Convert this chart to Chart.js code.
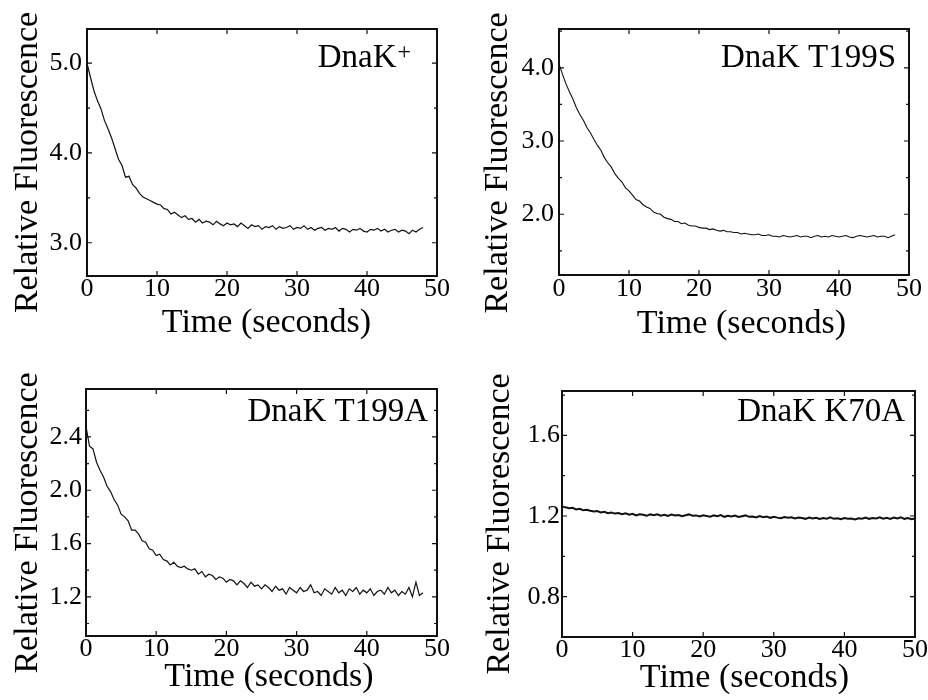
<!DOCTYPE html>
<html>
<head>
<meta charset="utf-8">
<script src="https://cdn.jsdelivr.net/npm/chart.js@4.4.1/dist/chart.umd.min.js"></script>
<style>
  body { margin: 0; background: #fff; }
  #figure { position: relative; width: 928px; height: 700px; }
  .panel { position: absolute; width: 464px; height: 350px; }
</style>
</head>
<body>
<div id="figure">
  <div class="panel" style="left:0;top:0"><canvas id="panelWT" width="464" height="350"></canvas></div>
  <div class="panel" style="left:464px;top:0"><canvas id="panelT199S" width="464" height="350"></canvas></div>
  <div class="panel" style="left:0;top:350px"><canvas id="panelT199A" width="464" height="350"></canvas></div>
  <div class="panel" style="left:464px;top:350px"><canvas id="panelK70A" width="464" height="350"></canvas></div>
</div>
<script>
const SERIF = '"Liberation Serif", "Times New Roman", serif';
const X_TITLE = 'Time (seconds)';
const Y_TITLE = 'Relative Fluorescence';

// sample times (seconds)
const TIME = [
  0, 0.5, 1, 1.5, 2, 2.5, 3, 3.5, 4, 4.5, 5, 5.5, 6, 6.5, 7, 7.5, 8, 8.5, 9, 9.5,
  10, 10.5, 11, 11.5, 12, 12.5, 13, 13.5, 14, 14.5, 15, 15.5, 16, 16.5, 17, 17.5, 18, 18.5, 19, 19.5,
  20, 20.5, 21, 21.5, 22, 22.5, 23, 23.5, 24, 24.5, 25, 25.5, 26, 26.5, 27, 27.5, 28, 28.5, 29, 29.5,
  30, 30.5, 31, 31.5, 32, 32.5, 33, 33.5, 34, 34.5, 35, 35.5, 36, 36.5, 37, 37.5, 38, 38.5, 39, 39.5,
  40, 40.5, 41, 41.5, 42, 42.5, 43, 43.5, 44, 44.5, 45, 45.5, 46, 46.5, 47, 47.5, 48, 48.5, 49, 49.5,
  50
];

// DnaK+ trace (0 - 48 s)
const WT_VALUES = [
  5.00, 4.84, 4.69, 4.58, 4.49, 4.36, 4.27, 4.17, 4.05, 3.93,
  3.86, 3.73, 3.74, 3.65, 3.61, 3.55, 3.51, 3.49, 3.47, 3.45,
  3.43, 3.42, 3.38, 3.37, 3.32, 3.34, 3.31, 3.28, 3.30, 3.26,
  3.27, 3.23, 3.26, 3.22, 3.24, 3.23, 3.20, 3.24, 3.21, 3.19,
  3.22, 3.20, 3.21, 3.18, 3.22, 3.19, 3.16, 3.20, 3.18, 3.19,
  3.15, 3.18, 3.17, 3.19, 3.15, 3.18, 3.16, 3.17, 3.19, 3.15,
  3.17, 3.16, 3.19, 3.15, 3.17, 3.14, 3.16, 3.17, 3.14, 3.16,
  3.15, 3.17, 3.13, 3.16, 3.15, 3.12, 3.15, 3.14, 3.16, 3.13,
  3.12, 3.15, 3.14, 3.16, 3.13, 3.15, 3.12, 3.14, 3.15, 3.12,
  3.14, 3.13, 3.10, 3.14, 3.12, 3.15, 3.17
];

// DnaK T199S trace (0 - 48 s)
const T199S_VALUES = [
  4.05, 3.91, 3.78, 3.67, 3.57, 3.45, 3.36, 3.28, 3.18, 3.11,
  3.02, 2.94, 2.87, 2.77, 2.70, 2.64, 2.55, 2.49, 2.44, 2.36,
  2.32, 2.26, 2.20, 2.18, 2.13, 2.10, 2.08, 2.03, 2.01, 2.00,
  1.96, 1.94, 1.93, 1.90, 1.90, 1.87, 1.88, 1.85, 1.84, 1.84,
  1.82, 1.81, 1.81, 1.79, 1.80, 1.78, 1.77, 1.78, 1.76, 1.76,
  1.75, 1.75, 1.73, 1.74, 1.73, 1.72, 1.72, 1.73, 1.71, 1.71,
  1.72, 1.70, 1.70, 1.69, 1.71, 1.70, 1.69, 1.70, 1.71, 1.69,
  1.70, 1.70, 1.68, 1.70, 1.71, 1.69, 1.70, 1.69, 1.71, 1.70,
  1.69, 1.70, 1.71, 1.69, 1.68, 1.70, 1.71, 1.70, 1.69, 1.70,
  1.71, 1.69, 1.70, 1.70, 1.68, 1.70, 1.72
];

// DnaK T199A trace (0 - 48 s)
const T199A_VALUES = [
  2.48, 2.33, 2.31, 2.21, 2.15, 2.10, 2.03, 1.99, 1.93, 1.89,
  1.82, 1.80, 1.77, 1.70, 1.70, 1.67, 1.62, 1.61, 1.56, 1.55,
  1.51, 1.52, 1.48, 1.47, 1.44, 1.46, 1.43, 1.42, 1.43, 1.41,
  1.40, 1.41, 1.37, 1.39, 1.35, 1.37, 1.36, 1.33, 1.35, 1.34,
  1.31, 1.33, 1.32, 1.29, 1.32, 1.30, 1.27, 1.31, 1.28, 1.29,
  1.26, 1.29, 1.27, 1.24, 1.28, 1.25, 1.26, 1.22, 1.27, 1.25,
  1.23, 1.27, 1.24, 1.25, 1.29, 1.23, 1.24, 1.21, 1.26, 1.24,
  1.22, 1.27, 1.23, 1.25, 1.21, 1.26, 1.24, 1.27, 1.22, 1.25,
  1.23, 1.26, 1.21, 1.24, 1.25, 1.22, 1.27, 1.23, 1.25, 1.21,
  1.24, 1.22, 1.27, 1.20, 1.31, 1.21, 1.23
];

// DnaK K70A trace (0 - 50 s)
const K70A_VALUES = [
  1.248, 1.243, 1.239, 1.241, 1.233, 1.236, 1.229, 1.231, 1.226, 1.222,
  1.225, 1.218, 1.221, 1.214, 1.217, 1.212, 1.215, 1.209, 1.213, 1.207,
  1.211, 1.203, 1.209, 1.206, 1.201, 1.208, 1.204, 1.209, 1.202, 1.206,
  1.200, 1.207, 1.203, 1.205, 1.199, 1.204, 1.208, 1.201, 1.203, 1.198,
  1.204, 1.200, 1.197, 1.203, 1.199, 1.205, 1.196, 1.201, 1.198, 1.202,
  1.195, 1.199, 1.203, 1.196, 1.198, 1.193, 1.200, 1.194, 1.197, 1.191,
  1.196, 1.192, 1.189, 1.195, 1.191, 1.194, 1.188, 1.193, 1.190, 1.186,
  1.192, 1.188, 1.191, 1.185, 1.190, 1.187, 1.193, 1.186, 1.189, 1.184,
  1.190, 1.186, 1.188, 1.183, 1.189, 1.187, 1.192, 1.186, 1.190, 1.188,
  1.194, 1.187, 1.191, 1.185, 1.192, 1.188, 1.194, 1.186, 1.190, 1.184,
  1.188
];

const X_TICKS = [0, 10, 20, 30, 40, 50];
const WT_Y_TICKS = [3.0, 4.0, 5.0];
const T199S_Y_TICKS = [2.0, 3.0, 4.0];
const T199A_Y_TICKS = [1.2, 1.6, 2.0, 2.4];
const K70A_Y_TICKS = [0.8, 1.2, 1.6];

function toPoints(values){
  return values.map((v, i) => ({ x: TIME[i], y: v }));
}

// box around the plot with small inward ticks
const framePlugin = {
  id: 'frame',
  afterDatasetsDraw(chart, args, opts) {
    const { ctx, chartArea: a, scales } = chart;
    ctx.save();
    ctx.strokeStyle = '#111';
    ctx.lineWidth = 2;
    ctx.strokeRect(a.left, a.top, a.right - a.left, a.bottom - a.top);

    ctx.lineWidth = 1.2;
    ctx.beginPath();
    X_TICKS.forEach(v => {
      const px = scales.x.getPixelForValue(v);
      ctx.moveTo(px, a.bottom); ctx.lineTo(px, a.bottom - 5);
      ctx.moveTo(px, a.top);    ctx.lineTo(px, a.top + 5);
    });
    const yTicks = opts.yTicks;
    const step = yTicks[1] - yTicks[0];
    const minor = [yTicks[0] - step / 2].concat(yTicks.map(v => v + step / 2));
    yTicks.forEach(v => {
      const py = scales.y.getPixelForValue(v);
      ctx.moveTo(a.left, py);  ctx.lineTo(a.left + 5, py);
      ctx.moveTo(a.right, py); ctx.lineTo(a.right - 5, py);
    });
    minor.forEach(v => {
      const py = scales.y.getPixelForValue(v);
      if (py < a.top + 2 || py > a.bottom - 2) { return; }
      ctx.moveTo(a.left, py);  ctx.lineTo(a.left + 3, py);
      ctx.moveTo(a.right, py); ctx.lineTo(a.right - 3, py);
    });
    ctx.stroke();
    ctx.restore();
  }
};

// axis titles, placed like the scanned figure (slightly off the plot centre)
const axisTitlePlugin = {
  id: 'axisTitles',
  afterDraw(chart, args, opts) {
    const { ctx, chartArea: a } = chart;
    ctx.save();
    ctx.fillStyle = '#000';
    ctx.font = '34px ' + SERIF;
    ctx.textAlign = 'center';
    ctx.textBaseline = 'alphabetic';
    ctx.fillText(X_TITLE, (a.left + a.right) / 2 + opts.xShift, opts.xBaseline);
    ctx.translate(opts.yBaseline, (a.top + a.bottom) / 2 + opts.yShift);
    ctx.rotate(-Math.PI / 2);
    ctx.fillText(Y_TITLE, 0, 0);
    ctx.restore();
  }
};

// name of the protein in the top right corner
const labelPlugin = {
  id: 'panelLabel',
  afterDraw(chart, args, opts) {
    const { ctx, chartArea: a } = chart;
    let x = a.right - opts.right;
    const y = a.top + opts.baseline;
    ctx.save();
    ctx.fillStyle = '#000';
    ctx.textAlign = 'right';
    ctx.textBaseline = 'alphabetic';
    if (opts.sup) {
      ctx.font = '24px ' + SERIF;
      ctx.fillText(opts.sup, x, y - 8);
      x -= ctx.measureText(opts.sup).width + 1;
    }
    ctx.font = '33px ' + SERIF;
    ctx.fillText(opts.text, x, y);
    ctx.restore();
  }
};

function makePanel(canvasId, values, p){
  const ctx = document.getElementById(canvasId).getContext('2d');
  return new Chart(ctx, {
    type: 'line',
    data: {
      datasets: [{
        data: toPoints(values),
        borderColor: '#111',
        borderWidth: p.lineWidth,
        pointRadius: 0,
        tension: 0,
        fill: false
      }]
    },
    options: {
      responsive: false,
      animation: false,
      layout: { padding: { left: 0, top: p.top, right: 464 - p.right, bottom: 0 } },
      scales: {
        x: {
          type: 'linear',
          min: 0,
          max: 50,
          afterBuildTicks: s => { s.ticks = X_TICKS.map(v => ({ value: v })); },
          afterFit: s => { s.height = 350 - p.bottom; },
          grid: { display: false, drawTicks: false },
          border: { display: false },
          ticks: {
            color: '#000',
            autoSkip: false,
            maxRotation: 0,
            padding: p.xTickPad,
            font: { family: SERIF, size: 26, lineHeight: 1 },
            callback: v => String(v)
          }
        },
        y: {
          type: 'linear',
          min: p.yMin,
          max: p.yMax,
          afterBuildTicks: s => { s.ticks = p.yTicks.map(v => ({ value: v })); },
          afterFit: s => { s.width = p.left; },
          grid: { display: false, drawTicks: false },
          border: { display: false },
          ticks: {
            color: '#000',
            autoSkip: false,
            padding: p.yTickPad,
            font: { family: SERIF, size: 26, lineHeight: 1 },
            callback: v => v.toFixed(1)
          }
        }
      },
      plugins: {
        legend: { display: false },
        tooltip: { enabled: false },
        frame: { yTicks: p.yTicks },
        axisTitles: p.titles,
        panelLabel: p.label
      }
    },
    plugins: [framePlugin, axisTitlePlugin, labelPlugin]
  });
}

makePanel('panelWT', WT_VALUES, {
  left: 87, top: 29, right: 437, bottom: 276,
  yMin: 2.63, yMax: 5.38, yTicks: WT_Y_TICKS,
  xTickPad: 0, yTickPad: 5, lineWidth: 1.2,
  titles: { xBaseline: 332, xShift: 4.5, yBaseline: 37, yShift: 10 },
  label: { text: 'DnaK', sup: '+', right: 26, baseline: 38 }
});

makePanel('panelT199S', T199S_VALUES, {
  left: 95, top: 29, right: 445, bottom: 275,
  yMin: 1.17, yMax: 4.53, yTicks: T199S_Y_TICKS,
  xTickPad: 1, yTickPad: 5, lineWidth: 1.1,
  titles: { xBaseline: 333, xShift: 7.5, yBaseline: 43, yShift: 11 },
  label: { text: 'DnaK T199S', right: 13, baseline: 38 }
});

makePanel('panelT199A', T199A_VALUES, {
  left: 86, top: 39, right: 437, bottom: 286,
  yMin: 0.906, yMax: 2.76, yTicks: T199A_Y_TICKS,
  xTickPad: 0, yTickPad: 4, lineWidth: 1.2,
  titles: { xBaseline: 336, xShift: 7.5, yBaseline: 37, yShift: 10.5 },
  label: { text: 'DnaK T199A', right: 9, baseline: 32 }
});

makePanel('panelK70A', K70A_VALUES, {
  left: 98, top: 41, right: 452, bottom: 287,
  yMin: 0.60, yMax: 1.82, yTicks: K70A_Y_TICKS,
  xTickPad: 0, yTickPad: 2, lineWidth: 2,
  titles: { xBaseline: 337, xShift: 6, yBaseline: 44.5, yShift: 10 },
  label: { text: 'DnaK K70A', right: 10, baseline: 30 }
});
</script>
</body>
</html>
